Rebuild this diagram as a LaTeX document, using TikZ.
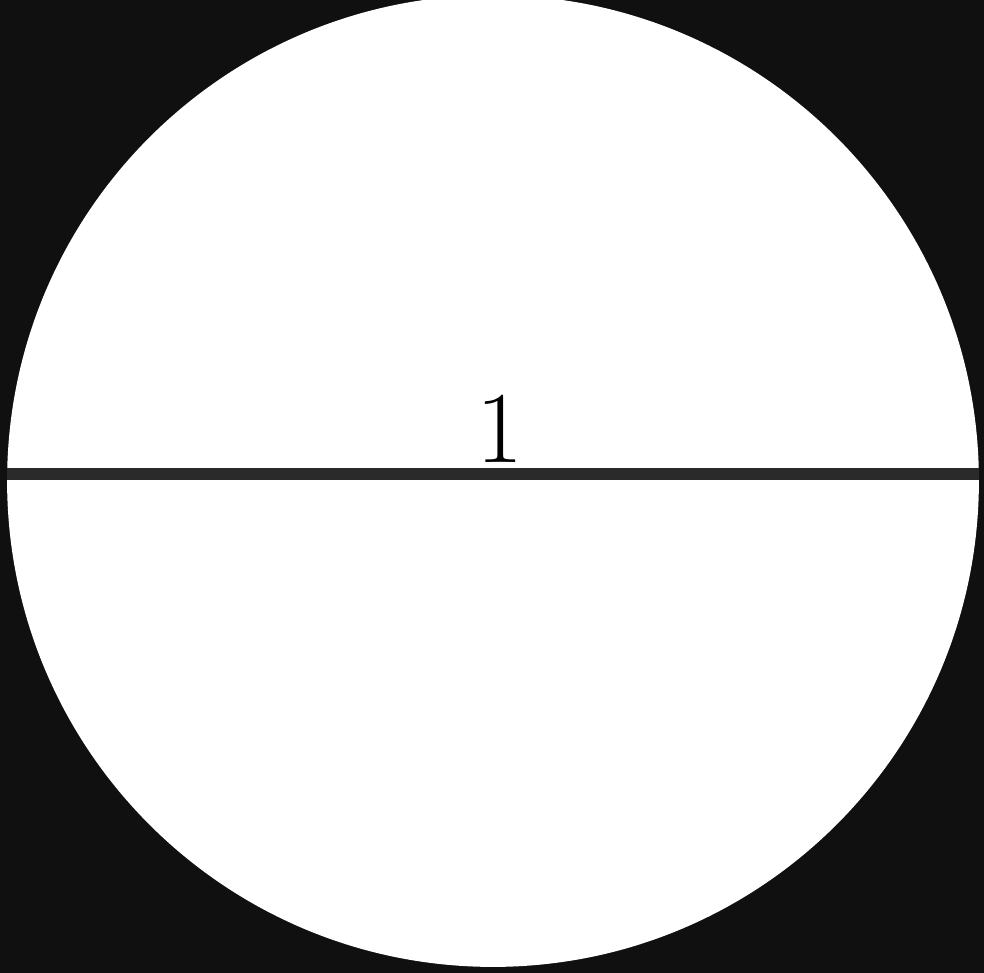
\documentclass[tikz,border=0pt]{standalone}
\usepackage{xcolor}
\usetikzlibrary{positioning}
\definecolor{bgdark}{HTML}{101010}
\definecolor{chordgray}{HTML}{2A2A2A}

\begin{document}
\begin{tikzpicture}[
    x=0.02cm, y=-0.02cm,
    chord/.style={line width=0.23cm, chordgray},
    lbl/.style={font=\fontsize{58}{62}\selectfont, inner sep=0pt, anchor=base},
]
% Background
\fill[bgdark] (0,0) rectangle (984,973);
\useasboundingbox (0,0) rectangle (984,973);

% Disc
\fill[white] (493,481) circle[radius=9.72cm];

% Diameter
\coordinate (left) at (7,474);
\coordinate (right) at (979,474);
\draw[chord] (left) -- (right);

% Length label
\node[lbl] (len) at (500,462) {1};
\end{tikzpicture}
\end{document}
